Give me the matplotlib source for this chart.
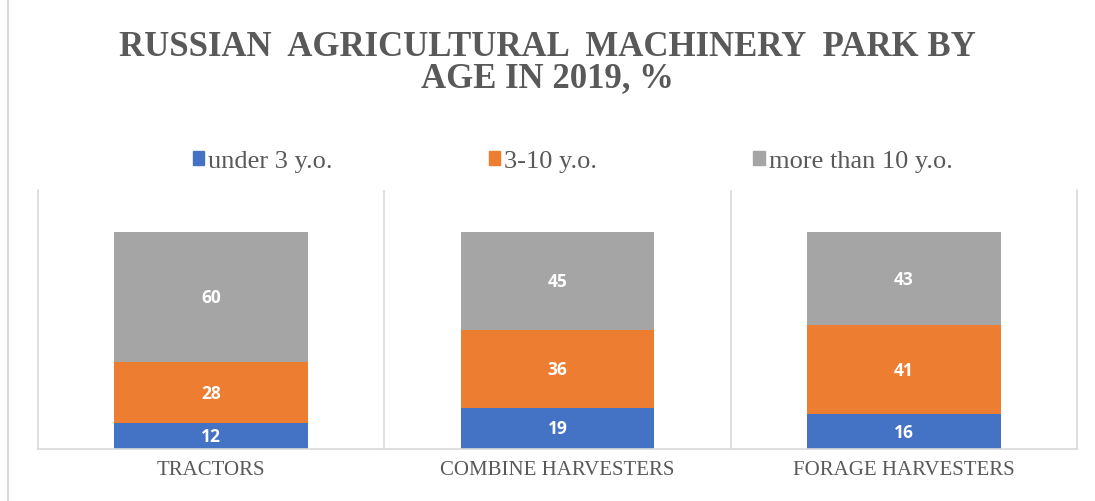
import numpy as np
import matplotlib.pyplot as plt
from matplotlib.lines import Line2D
from matplotlib.patches import Patch

categories = ['TRACTORS', 'COMBINE HARVESTERS', 'FORAGE HARVESTERS']
series_names = ['under 3 y.o.', '3-10 y.o.', 'more than 10 y.o.']
under3 = [12, 19, 16]
mid = [28, 36, 41]
over10 = [60, 45, 43]
colors = ['#4472C4', '#ED7D31', '#A5A5A5']

fig = plt.figure(figsize=(10.95, 5.02), dpi=100)
ax = fig.add_axes([38 / 1095, 1 - 450 / 502, (1077 - 38) / 1095, (450 - 191) / 502])

x = np.arange(len(categories))
bottom = np.zeros(len(categories))
for vals, name, c in zip([under3, mid, over10], series_names, colors):
    bars = ax.bar(x, vals, width=0.56, bottom=bottom, color=c, label=name, zorder=2)
    for b, v, y0 in zip(bars, vals, bottom):
        ax.text(b.get_x() + b.get_width() / 2, y0 + v / 2, str(v), ha='center', va='center',
                color='white', fontsize=12.5, fontweight='bold', family='Open Sans')
    bottom += np.array(vals)

ax.set_xlim(-0.5, len(categories) - 0.5)
ax.set_ylim(0, 119.5)
ax.set_yticks([])
ax.set_xticks(x)
ax.set_xticklabels(categories, family='Liberation Serif', fontsize=15, color='#595959')
ax.tick_params(axis='x', length=0, pad=8)
ax.spines['top'].set_visible(False)
for s in ['left', 'right', 'bottom']:
    ax.spines[s].set_color('#D9D9D9')
    ax.spines[s].set_linewidth(1.2)
for sep in x[:-1] + 0.5:
    ax.axvline(sep, color='#D9D9D9', lw=1.2, zorder=1)

# outer chart border on the left
fig.add_artist(Line2D([8 / 1095, 8 / 1095], [0, 1], color='#D9D9D9', lw=1.5))

fig.text(0.5, 1 - 47 / 502, 'RUSSIAN  AGRICULTURAL  MACHINERY  PARK BY', ha='center', va='center',
         family='Liberation Serif', fontweight='bold', fontsize=25, color='#595959')
fig.text(0.5, 1 - 79 / 502, 'AGE IN 2019, %', ha='center', va='center',
         family='Liberation Serif', fontweight='bold', fontsize=25, color='#595959')

handles = [Patch(color=c) for c in colors]
fig.legend(handles, series_names, loc='center', bbox_to_anchor=(0.523, 1 - 162 / 502), ncol=3,
           frameon=False, prop={'family': 'Liberation Serif', 'size': 19},
           handlelength=0.45, handleheight=0.45, handletextpad=0.15, columnspacing=5.9,
           labelcolor='#595959')

fig.savefig('out.png', dpi=100)
